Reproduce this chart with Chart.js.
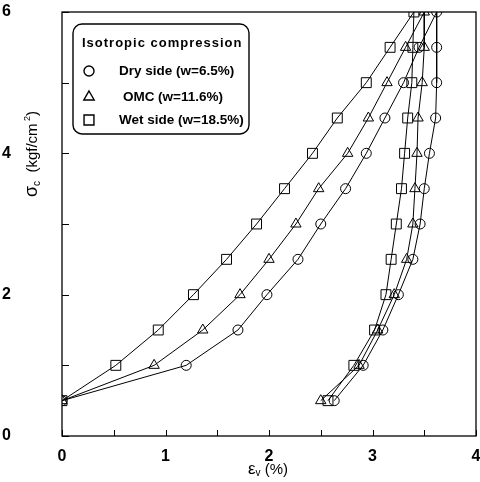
<!DOCTYPE html>
<html>
<head>
<meta charset="utf-8">
<script src="https://cdn.jsdelivr.net/npm/chart.js@4/dist/chart.umd.min.js"></script>
<style>
html,body{margin:0;padding:0;background:#fff;}
canvas{display:block;}
</style>
</head>
<body>
<canvas id="c" width="480" height="482" style="width:480px;height:482px"></canvas>
<script>
// ---- data ----
const loadStress   = [0.5, 1, 1.5, 2, 2.5, 3, 3.5, 4, 4.5, 5, 5.5, 6];
const unloadStress = [5.5, 5, 4.5, 4, 3.5, 3, 2.5, 2, 1.5, 1, 0.5];

const dryLoadStrain   = [0, 1.20, 1.70, 1.98, 2.28, 2.50, 2.74, 2.94, 3.12, 3.30, 3.45, 3.62];
const dryUnloadStrain = [3.62, 3.62, 3.61, 3.55, 3.50, 3.46, 3.39, 3.25, 3.10, 2.91, 2.63];
const omcLoadStrain   = [0, 0.89, 1.36, 1.72, 2.00, 2.26, 2.48, 2.76, 2.96, 3.14, 3.32, 3.50];
const omcUnloadStrain = [3.50, 3.48, 3.44, 3.43, 3.41, 3.39, 3.33, 3.21, 3.05, 2.87, 2.50];
const wetLoadStrain   = [0, 0.52, 0.93, 1.27, 1.59, 1.88, 2.15, 2.42, 2.66, 2.94, 3.17, 3.40];
const wetUnloadStrain = [3.39, 3.38, 3.34, 3.31, 3.28, 3.23, 3.18, 3.13, 3.02, 2.82, 2.57];

const seriesNames = ['Dry side', 'OMC', 'Wet side'];
const seriesWater = ['(w=6.5%)', '(w=11.6%)', '(w=18.5%)'];
const legendTitle = 'Isotropic compression';
const xTickLabels = ['0', '1', '2', '3', '4'];
const yTickLabels = ['0', '2', '4', '6'];

function buildPoints(loadX, unloadX) {
  const pts = [];
  loadX.forEach((x, i) => pts.push({x: x, y: loadStress[i]}));
  unloadX.forEach((x, i) => pts.push({x: x, y: unloadStress[i]}));
  return pts;
}

const styles = [
  {pointStyle: 'circle', radius: 5},
  {pointStyle: 'triangle', radius: 6},
  {pointStyle: 'rect', radius: 7}
];
const seriesData = [
  buildPoints(dryLoadStrain, dryUnloadStrain),
  buildPoints(omcLoadStrain, omcUnloadStrain),
  buildPoints(wetLoadStrain, wetUnloadStrain)
];

const FONT = '"Liberation Sans", Arial, Helvetica, sans-serif';

function drawRich(ctx, parts, x, y, align) {
  let total = 0;
  parts.forEach(p => { ctx.font = (p[3] ? 'bold ' : '') + p[1] + 'px ' + FONT; p.w = ctx.measureText(p[0]).width; total += p.w; });
  let cx = align === 'center' ? x - total / 2 : x;
  ctx.textBaseline = 'alphabetic';
  ctx.textAlign = 'left';
  parts.forEach(p => { ctx.font = (p[3] ? 'bold ' : '') + p[1] + 'px ' + FONT; ctx.fillText(p[0], cx, y + p[2]); cx += p.w; });
}

const decor = {
  id: 'decor',
  afterDraw(chart) {
    const ctx = chart.ctx;
    const a = chart.chartArea;
    const xs = chart.scales.x, ys = chart.scales.y;
    ctx.save();
    ctx.strokeStyle = '#000';
    ctx.fillStyle = '#000';
    ctx.lineWidth = 1.3;
    ctx.strokeRect(a.left, a.top, a.right - a.left, a.bottom - a.top);
    ctx.lineWidth = 1;
    ctx.beginPath();
    for (let v = xs.min; v <= xs.max + 1e-9; v += 0.5) {
      const px = Math.round(xs.getPixelForValue(v)) + 0.5;
      ctx.moveTo(px, a.bottom); ctx.lineTo(px, a.bottom - 6);
    }
    for (let v = ys.min; v <= ys.max + 1e-9; v += 1) {
      const py = Math.round(ys.getPixelForValue(v)) + 0.5;
      ctx.moveTo(a.left, py); ctx.lineTo(a.left + 7, py);
    }
    ctx.stroke();
    drawRich(ctx, [['ε', 17, 0], ['v', 10, 2], [' (%)', 15, 0]], 268, 474, 'center');
    ctx.save();
    ctx.translate(37, 154);
    ctx.rotate(-Math.PI / 2);
    drawRich(ctx, [['σ', 18, 0], ['c', 10, 3], ['  (kgf/cm', 15, 0], [' 2', 9, -7], [')', 15, 0]], 0, 0, 'center');
    ctx.restore();
    // legend box
    ctx.lineWidth = 1.4;
    ctx.beginPath();
    ctx.roundRect(73, 24, 176, 110, 9);
    ctx.stroke();
    ctx.font = 'bold 13px ' + FONT;
    ctx.textBaseline = 'middle';
    ctx.textAlign = 'left';
    if ('letterSpacing' in ctx) ctx.letterSpacing = '1px';
    ctx.fillText(legendTitle, 82, 43);
    if ('letterSpacing' in ctx) ctx.letterSpacing = '0px';
    const rowsY = [71, 97, 120];
    seriesNames.forEach((name, i) => {
      ctx.fillStyle = 'rgba(0,0,0,0)';
      ctx.strokeStyle = '#000';
      Chart.helpers.drawPoint(ctx, {pointStyle: styles[i].pointStyle, radius: styles[i].radius, borderWidth: 1.2, rotation: 0}, 89, rowsY[i]);
      ctx.fillStyle = '#000';
      ctx.font = 'bold 13.5px ' + FONT;
      ctx.textBaseline = 'middle';
      if (i === 1) {
        ctx.fillText(name, 123, rowsY[i]);
        ctx.fillText(seriesWater[i], 158, rowsY[i]);
      } else {
        ctx.fillText(name + ' ' + seriesWater[i], 119, rowsY[i]);
      }
    });
    ctx.restore();
  }
};

new Chart(document.getElementById('c'), {
  type: 'scatter',
  data: {
    datasets: seriesData.map((d, i) => ({
      label: seriesNames[i] + ' ' + seriesWater[i],
      data: d,
      showLine: true,
      tension: 0,
      borderColor: '#000',
      borderWidth: 1,
      pointStyle: styles[i].pointStyle,
      pointRadius: styles[i].radius,
      pointBorderColor: '#000',
      pointBorderWidth: 1,
      pointBackgroundColor: 'rgba(0,0,0,0)'
    }))
  },
  options: {
    responsive: false,
    animation: false,
    layout: {autoPadding: false, padding: {top: 12, right: 4, left: 0, bottom: 0}},
    plugins: {legend: {display: false}, tooltip: {enabled: false}},
    scales: {
      x: {
        type: 'linear', min: 0, max: 4,
        grid: {display: false}, border: {display: false},
        ticks: {stepSize: 1, padding: 3, color: '#000', font: {family: FONT, size: 16, weight: 'bold'},
                callback: (v) => xTickLabels[v] !== undefined && Number.isInteger(v) ? xTickLabels[v] : ''},
        afterFit(s) { s.height = 46; s.paddingLeft = 0; s.paddingRight = 0; s.paddingTop = 0; s.paddingBottom = 0; }
      },
      y: {
        type: 'linear', min: 0, max: 6,
        grid: {display: false}, border: {display: false},
        ticks: {stepSize: 2, padding: 43, color: '#000', font: {family: FONT, size: 16, weight: 'bold'},
                callback: (v) => yTickLabels[v / 2] !== undefined ? yTickLabels[v / 2] : ''},
        afterFit(s) { s.width = 62; s.paddingLeft = 0; s.paddingRight = 0; s.paddingTop = 0; s.paddingBottom = 0; }
      }
    }
  },
  plugins: [decor]
});
</script>
</body>
</html>
